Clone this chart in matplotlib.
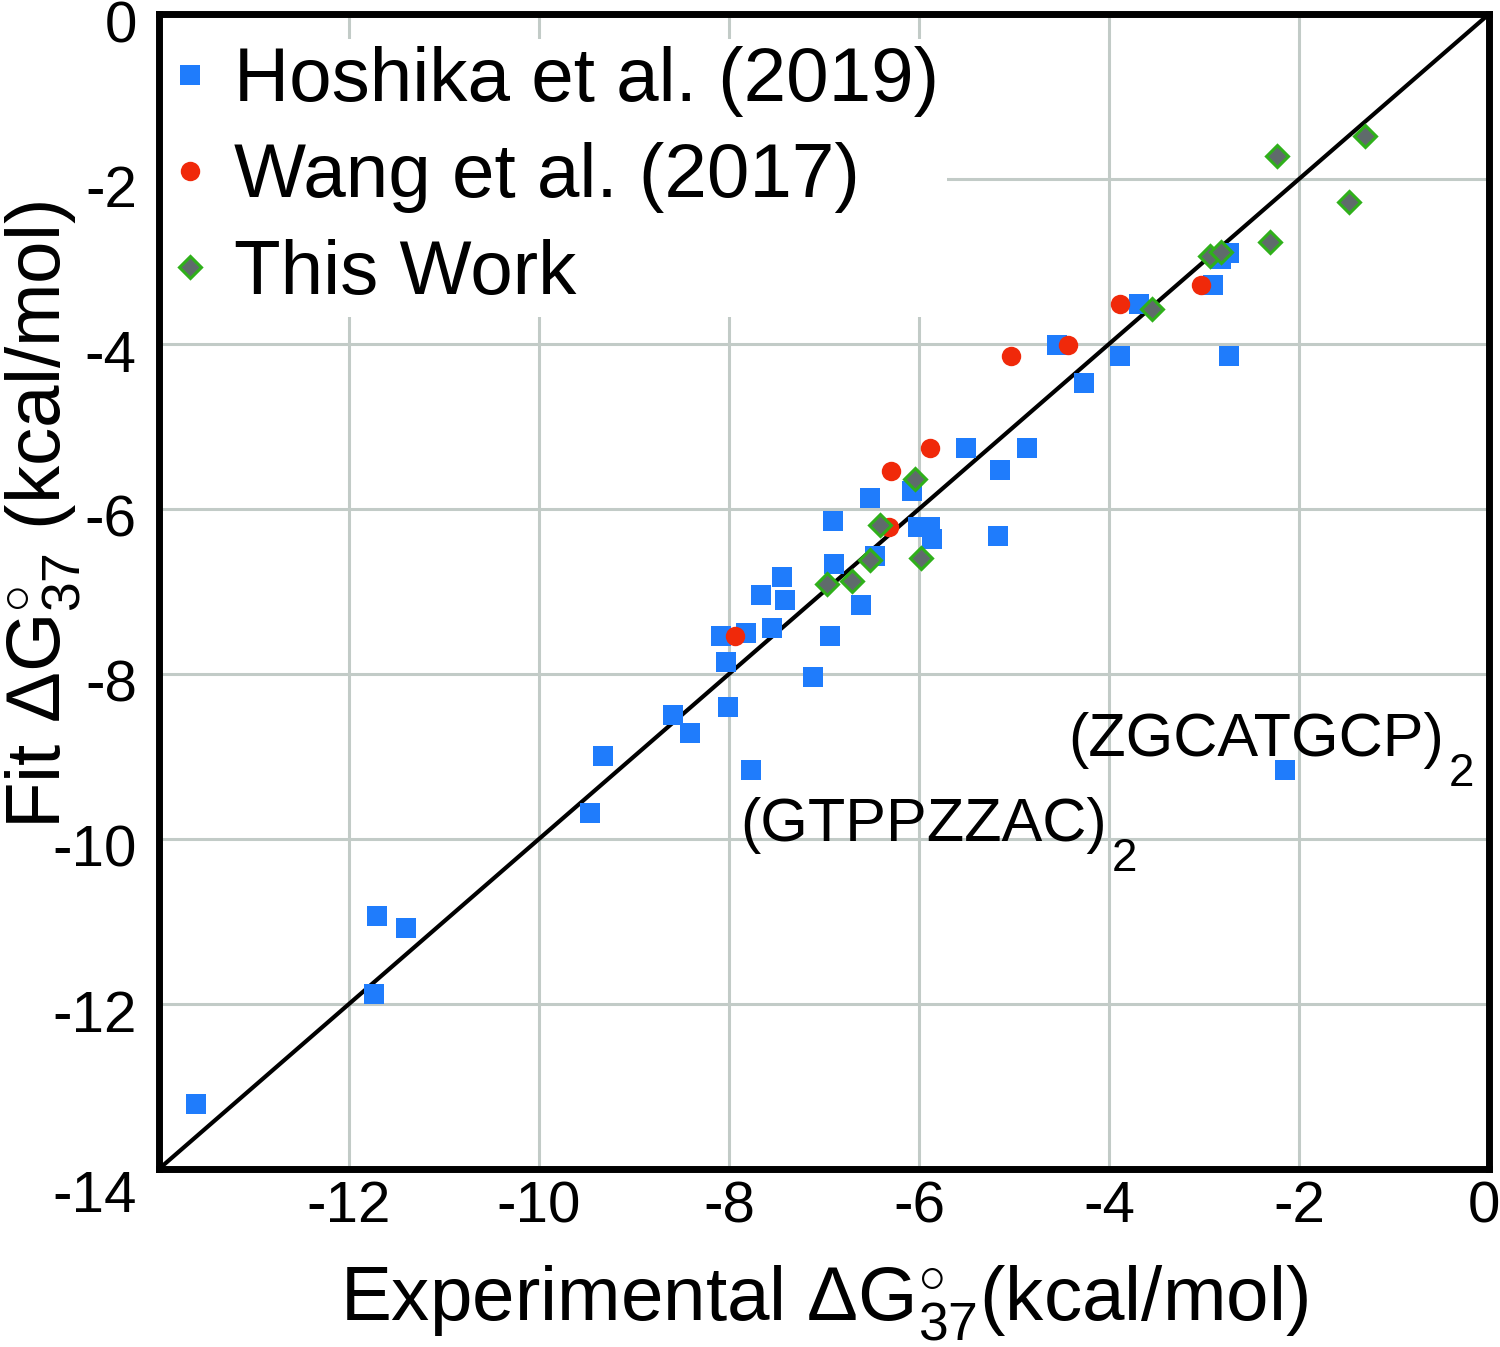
import matplotlib
matplotlib.use("Agg")
import matplotlib.pyplot as plt
import matplotlib.transforms as mtransforms

plt.rcParams['font.family'] = ['Liberation Sans', 'DejaVu Sans']
plt.rcParams['mathtext.fontset'] = 'custom'
plt.rcParams['mathtext.rm'] = 'Liberation Sans'
plt.rcParams['mathtext.it'] = 'Liberation Sans'
plt.rcParams['mathtext.bf'] = 'Liberation Sans:bold'
plt.rcParams['axes.unicode_minus'] = False

# Hoshika et al. (2019)
hosh_x = [-13.61, -11.71, -11.40, -11.74, -9.46, -9.33, -8.59, -8.41, -8.01, -7.77,
          -8.08, -8.03, -7.82, -7.55, -7.66, -7.44, -7.41, -7.12, -6.94, -6.91,
          -6.89, -6.61, -6.52, -6.46, -6.07, -6.01, -5.88, -5.86, -5.51, -5.17,
          -5.15, -4.86, -4.55, -4.26, -3.88, -3.68, -2.91, -2.82, -2.74, -2.74,
          -2.15]
hosh_y = [-13.21, -10.94, -11.08, -11.88, -9.68, -9.00, -8.50, -8.72, -8.40, -9.17,
          -7.54, -7.85, -7.50, -7.44, -7.04, -6.82, -7.10, -8.04, -7.54, -6.14,
          -6.67, -7.17, -5.87, -6.57, -5.78, -6.22, -6.22, -6.36, -5.26, -6.33,
          -5.53, -5.26, -4.01, -4.47, -4.14, -3.52, -3.28, -2.97, -2.90, -4.14,
          -9.17]

# Wang et al. (2017)
wang_x = [-7.94, -6.32, -6.29, -5.88, -5.03, -4.43, -3.88, -3.03]
wang_y = [-7.54, -6.22, -5.54, -5.26, -4.14, -4.01, -3.52, -3.28]

# This Work
work_x = [-6.97, -6.71, -6.52, -6.41, -6.04, -5.98, -3.55, -2.94, -2.82, -2.31,
          -2.23, -1.47, -1.31]
work_y = [-6.91, -6.87, -6.62, -6.19, -5.64, -6.60, -3.58, -2.93, -2.88, -2.76,
          -1.72, -2.28, -1.48]

ticks = [0, -2, -4, -6, -8, -10, -12, -14]
xticks = [-12, -10, -8, -6, -4, -2, 0]

fig = plt.figure(figsize=(15, 13.47), dpi=100)
ax = fig.add_axes([0.106, 0.1322, 0.8867, 0.8574])

ax.plot([-14, 0], [-14, 0], color='black', lw=3, zorder=2)

ax.plot(hosh_x, hosh_y, 's', color='#1f7cfc', ms=13.7, mew=0, zorder=3,
        label='Hoshika et al. (2019)')
ax.plot(wang_x, wang_y, 'o', color='#f0290a', ms=14, mew=0, zorder=4,
        label='Wang et al. (2017)')
ax.plot(work_x, work_y, 'D', mfc='#5f6b6b', mec='#2fb01a', ms=11, mew=2.2, zorder=5,
        label='This Work')

# sequence labels, with the subscript 2 set low like in the original
for x, y, s in [(-4.43, -8.99, '(ZGCATGCP)'), (-7.88, -10.02, '(GTPPZZAC)')]:
    t = ax.text(x, y, s, fontsize=44, ha='left', va='baseline')
    ax.annotate('2', xy=(1, 0), xycoords=t, xytext=(5, -17),
                textcoords='offset pixels', fontsize=33, ha='left', va='baseline')

ax.set_xlim(-14, 0)
ax.set_ylim(-14, 0)
ax.set_xticks(xticks)
ax.set_yticks(ticks)
ax.set_xticklabels([str(t) for t in xticks])
ax.set_yticklabels([str(t) for t in ticks])
ax.tick_params(axis='both', length=0, labelsize=42)
ax.tick_params(axis='x', pad=8)
ax.tick_params(axis='y', pad=16)
ax.grid(True, color='#c2cbc7', lw=2.2, zorder=0)
ax.set_axisbelow(True)
for s in ax.spines.values():
    s.set_linewidth(5)

# y tick labels sit a little below their grid lines, the bottom one more
for lab in ax.get_yticklabels():
    dy = -22 if lab.get_text() == '-14' else -7
    lab.set_transform(lab.get_transform() +
                      mtransforms.ScaledTranslation(0, dy / 100, fig.dpi_scale_trans))
for lab in ax.get_xticklabels():
    if lab.get_text() == '0':
        lab.set_transform(lab.get_transform() +
                          mtransforms.ScaledTranslation(-5 / 100, 0, fig.dpi_scale_trans))

ax.set_xlabel(r'Experimental $\Delta\mathrm{G}^{\circ}_{37}$(kcal/mol)', fontsize=55,
              va='baseline')
ax.xaxis.set_label_coords(0.5, -0.1316)
ax.set_ylabel(r'Fit $\Delta\mathrm{G}^{\circ}_{37}$ (kcal/mol)', fontsize=55)
ax.yaxis.set_label_coords(-0.057, 0.566)

leg = ax.legend(loc='upper left', bbox_to_anchor=(0.0, 0.982), fontsize=55,
                handlelength=0.5, handletextpad=0.33, labelspacing=0.33,
                borderpad=0.1, borderaxespad=0.05, frameon=True, fancybox=False,
                framealpha=1, edgecolor='none', facecolor='white')
leg.set_zorder(6)

fig.savefig('out.png', dpi=100)
